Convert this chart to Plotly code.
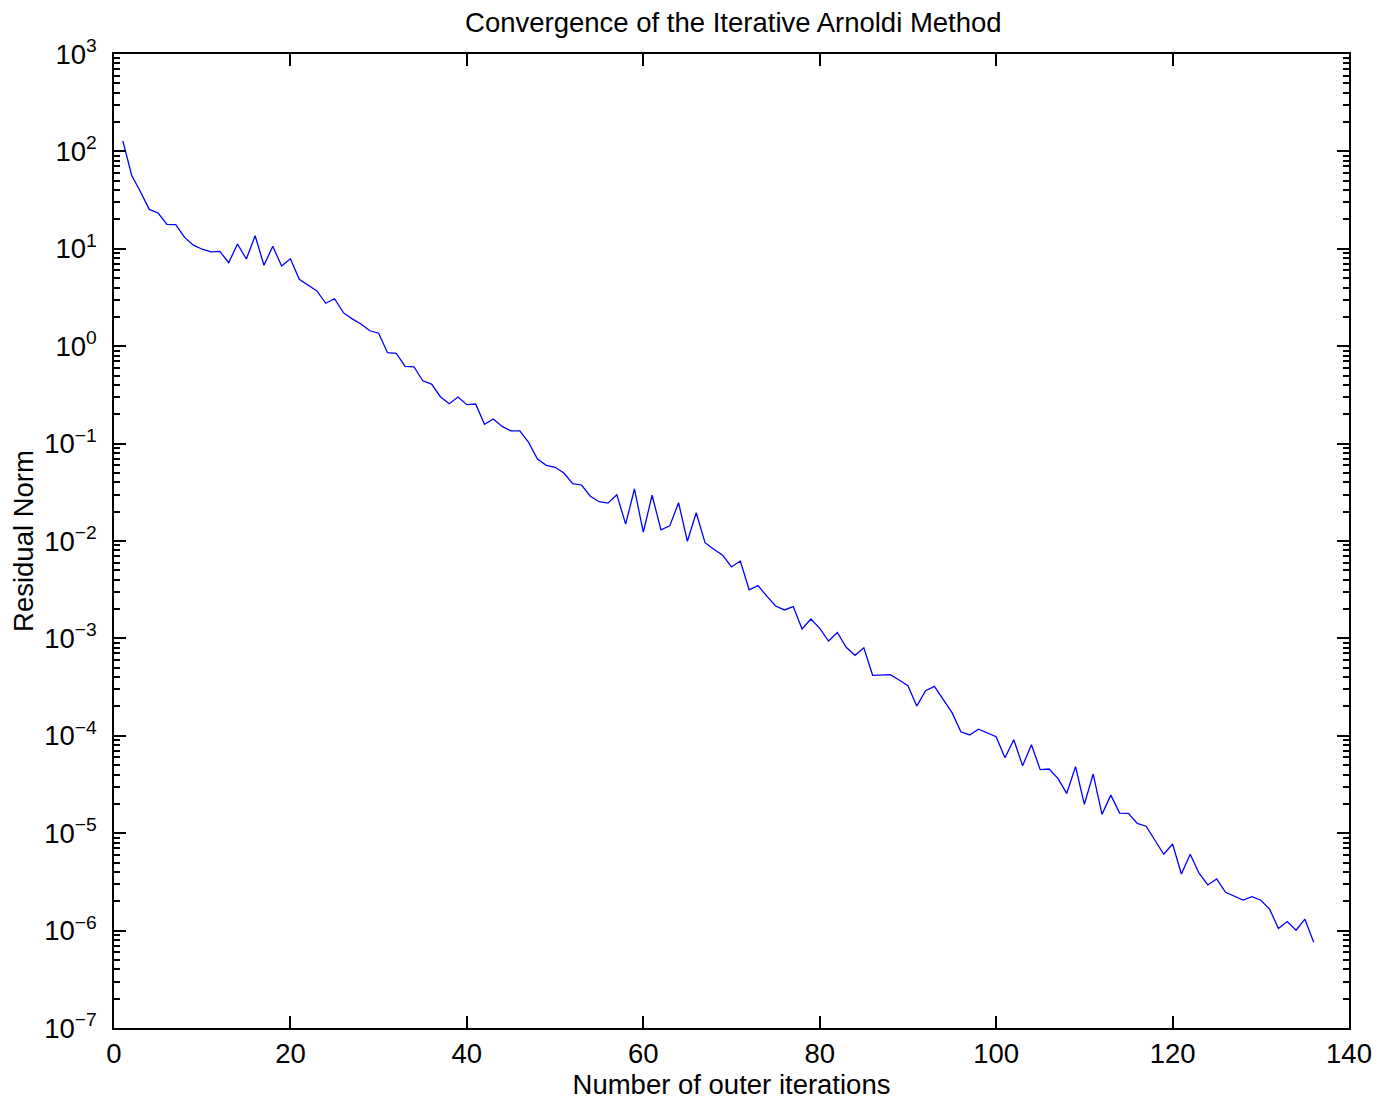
import plotly.graph_objects as go

residual_norm = [
    128, 57, 38.5, 25.4, 23.3, 17.8, 17.7, 13.1, 10.9, 9.9,
    9.3, 9.4, 7.2, 11.2, 7.85, 13.6, 6.77, 10.6, 6.65, 7.9,
    4.86, 4.25, 3.69, 2.76, 3.07, 2.21, 1.91, 1.69, 1.44, 1.36,
    0.858, 0.845, 0.621, 0.615, 0.442, 0.409, 0.303, 0.257, 0.301, 0.251,
    0.255, 0.158, 0.179, 0.150, 0.135, 0.135, 0.103, 0.0695, 0.0598, 0.0571,
    0.0499, 0.0388, 0.0376, 0.0288, 0.0253, 0.0245, 0.0299, 0.0149, 0.0342, 0.0123,
    0.0295, 0.0130, 0.0143, 0.0247, 0.00993, 0.0195, 0.00961, 0.00822, 0.00713, 0.00541,
    0.00623, 0.00316, 0.00348, 0.00272, 0.00215, 0.00196, 0.00212, 0.00125, 0.00158, 0.00127,
    0.00094, 0.00115, 0.00081, 0.00067, 0.00080, 0.000418, 0.000424, 0.000424, 0.000374, 0.000327,
    0.000202, 0.000290, 0.000322, 0.000237, 0.000173, 0.000110, 0.000102, 0.000117, 0.000108, 0.0000980,
    0.0000596, 0.0000912, 0.0000493, 0.0000811, 0.0000449, 0.0000456, 0.0000366, 0.0000256, 0.0000482, 0.0000198,
    0.0000405, 0.0000156, 0.0000246, 0.0000161, 0.0000160, 0.0000126, 0.0000118, 0.00000853, 0.00000608, 0.00000775,
    0.00000381, 0.00000608, 0.00000388, 0.00000294, 0.00000339, 0.00000247, 0.00000226, 0.00000206, 0.00000223, 0.00000205,
    0.00000166, 0.00000105, 0.00000124, 0.00000101, 0.00000131, 0.000000759,
]
iterations = list(range(1, len(residual_norm) + 1))

x_ticks = [0, 20, 40, 60, 80, 100, 120, 140]
y_exponents = [-7, -6, -5, -4, -3, -2, -1, 0, 1, 2, 3]
y_tickvals = [10.0 ** e for e in y_exponents]
y_ticktext = ["10<sup>%s</sup>" % (str(e).replace("-", "\u2212")) for e in y_exponents]
y_minor = [m * 10.0 ** e for e in y_exponents[:-1] for m in range(2, 10)]

title_text = "Convergence of the Iterative Arnoldi Method"
x_title = "Number of outer iterations"
y_title = "Residual Norm"

FONT = "Liberation Sans, Arial, Helvetica, sans-serif"
FS = 27.5

fig = go.Figure()
fig.add_trace(go.Scatter(
    x=iterations, y=residual_norm, mode="lines",
    line=dict(color="#0000ff", width=1.3),
    showlegend=False,
))

fig.update_layout(
    width=1385, height=1100,
    margin=dict(l=114, r=36, t=54, b=72, autoexpand=False),
    paper_bgcolor="white", plot_bgcolor="white",
    font=dict(family=FONT, size=FS, color="black"),
    title=dict(text=title_text, x=0.5295, xanchor="center", y=0.98, yanchor="middle",
               yref="container", font=dict(size=FS, color="black")),
)

fig.update_xaxes(
    range=[0, 140], tickvals=x_ticks, ticktext=[str(v) for v in x_ticks],
    showgrid=False, zeroline=False, automargin=False,
    showline=True, linecolor="black", linewidth=1.5, mirror="allticks",
    ticks="inside", ticklen=12, tickwidth=1.5, tickcolor="black",
    tickfont=dict(size=FS), ticklabelstandoff=0,
    title=dict(text=x_title, font=dict(size=FS), standoff=9),
)

fig.update_yaxes(
    type="log", range=[-7, 3],
    tickvals=y_tickvals, ticktext=y_ticktext,
    showgrid=False, zeroline=False, automargin=False,
    showline=True, linecolor="black", linewidth=1.5, mirror="allticks",
    ticks="inside", ticklen=12, tickwidth=1.5, tickcolor="black",
    tickfont=dict(size=FS), ticklabelstandoff=10,
    minor=dict(tickvals=y_minor, ticks="inside", ticklen=6, tickwidth=1.5, tickcolor="black", showgrid=False),
    title=dict(text=y_title, font=dict(size=FS), standoff=3),
)

fig.write_html("out.html")
